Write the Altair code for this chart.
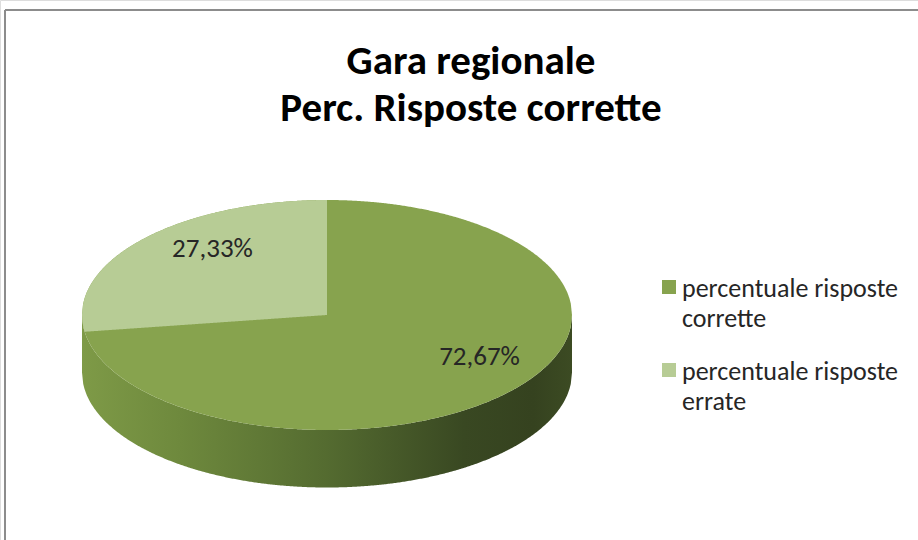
import numpy as np
import pandas as pd
import altair as alt

# ---- data ----
categories = ["percentuale risposte corrette", "percentuale risposte errate"]
values = [72.67, 27.33]
label_texts = ["72,67%", "27,33%"]
title_lines = ["Gara regionale", "Perc. Risposte corrette"]
colors = ["#87a34e", "#b7cc95"]

FONT = "Carlito, Lato, sans-serif"

# ---- geometry derived from values (unit ellipse, y up) ----
THICK = 0.5          # side depth in unit-y
total = sum(values)
b_theta = 2 * np.pi * values[0] / total           # boundary angle, clockwise from top
bx, by = np.sin(b_theta), np.cos(b_theta)

xs = np.linspace(-1, 1, 401)
top_df = pd.DataFrame({"x": xs, "yu": np.sqrt(np.clip(1 - xs**2, 0, 1)),
                       "yl": -np.sqrt(np.clip(1 - xs**2, 0, 1)),
                       "cat": categories[0]})

xe = np.linspace(-1, 0, 301)
upper = np.sqrt(np.clip(1 - xe**2, 0, 1))
ray = by / bx * xe
lower = np.where(xe >= bx, ray, -np.sqrt(np.clip(1 - xe**2, 0, 1)))
err_df = pd.DataFrame({"x": xe, "yu": upper, "yl": lower, "cat": categories[1]})

side_df = pd.DataFrame({"x": xs, "yt": -np.sqrt(np.clip(1 - xs**2, 0, 1)),
                        "yb": -np.sqrt(np.clip(1 - xs**2, 0, 1)) - THICK})

starts = np.cumsum([0] + values[:-1]) / total * 2 * np.pi
mids = starts + np.array(values) / total * np.pi
R = 0.72
lab_df = pd.DataFrame({"x": R * np.sin(mids), "y": R * np.cos(mids), "t": label_texts})

# ---- scales ----
xsc = alt.Scale(domain=[-1, 1], range=[82, 572])
ysc = alt.Scale(domain=[-1, 1], range=[430, 200])
csc = alt.Scale(domain=categories, range=colors)

X = lambda f: alt.X(f, type="quantitative", scale=xsc, axis=None)
Y = lambda f: alt.Y(f, type="quantitative", scale=ysc, axis=None)

frame_top = alt.Chart(pd.DataFrame({"k": [0]})).mark_rule(color="#8c8c8c", strokeWidth=2).encode(
    x=alt.value(5), x2=alt.value(918), y=alt.value(10))
frame_left = alt.Chart(pd.DataFrame({"k": [0]})).mark_rule(color="#8c8c8c", strokeWidth=2).encode(
    x=alt.value(5), y=alt.value(10), y2=alt.value(540))

side = alt.Chart(side_df).mark_area(
    color=alt.Gradient(gradient="linear", x1=0, x2=1, y1=0, y2=0,
                       stops=[alt.GradientStop(offset=0, color="#7e9a47"),
                              alt.GradientStop(offset=0.2, color="#6e893d"),
                              alt.GradientStop(offset=0.5, color="#546b30"),
                              alt.GradientStop(offset=0.78, color="#394822"),
                              alt.GradientStop(offset=0.92, color="#35421f"),
                              alt.GradientStop(offset=1, color="#3c4b23")])
).encode(x=X("x"), y=Y("yt"), y2=alt.Y2("yb"))

legend = alt.Legend(title=None, orient="none", legendX=656, legendY=274,
                    symbolType="square", symbolSize=196, symbolStrokeWidth=0,
                    labelFont=FONT, labelFontSize=26, labelColor="#262626",
                    labelExpr="[slice(datum.label, 0, 20), slice(datum.label, 21)]",
                    labelBaseline="top", labelOffset=0, rowPadding=25, labelLimit=400)

top = alt.Chart(top_df).mark_area().encode(
    x=X("x"), y=Y("yu"), y2=alt.Y2("yl"),
    color=alt.Color("cat:N", scale=csc, legend=legend))
err = alt.Chart(err_df).mark_area().encode(
    x=X("x"), y=Y("yu"), y2=alt.Y2("yl"),
    color=alt.Color("cat:N", scale=csc, legend=legend))

labels = alt.Chart(lab_df).mark_text(font=FONT, fontSize=27, color="#262626",
                                     dx=19, dy=-12).encode(
    x=X("x"), y=Y("y"), text="t:N")

title = alt.Chart(pd.DataFrame({"k": [0]})).mark_text(
    text=title_lines, font=FONT, fontSize=41, fontWeight="bold", color="#000000",
    lineHeight=47, baseline="alphabetic", align="center"
).encode(x=alt.value(471), y=alt.value(74))

chart = alt.layer(frame_top, frame_left, side, top, err, labels, title).properties(
    width=918, height=540, padding=0, autosize="none"
).configure_view(stroke=None).configure(
    style={"guide-label": {"lineHeight": 30, "dy": -11}}
)

chart.save("out.html", embed_options={"renderer": "svg", "actions": False})
